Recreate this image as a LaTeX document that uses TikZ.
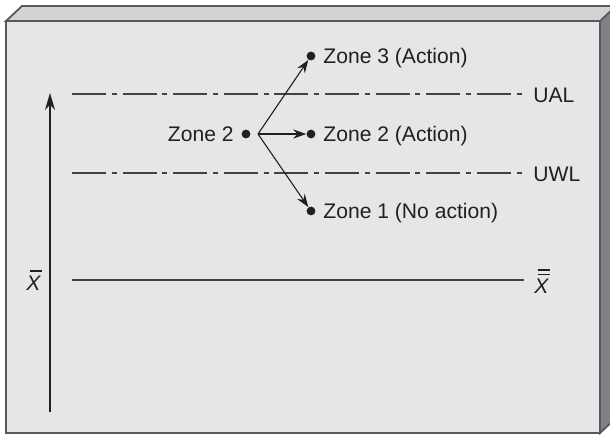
\documentclass[tikz,border=0pt]{standalone}
\usepackage{fontspec}
\setmainfont{Liberation Sans}
\usetikzlibrary{arrows.meta}
\definecolor{frontc}{HTML}{E5E6E7}
\definecolor{topc}{HTML}{D2D3D5}
\definecolor{sidec}{HTML}{808184}
\definecolor{edgec}{HTML}{58595B}
\definecolor{inkc}{HTML}{231F20}
\tikzset{
  lbl/.style={font=\fontsize{10.55}{12.6}\selectfont, text=inkc, inner sep=0pt, anchor=base west},
  dashdot/.style={draw=inkc!85, line width=0.6pt, dash pattern=on 17pt off 2.9pt on 2.5pt off 2.9pt},
  dotc/.style={circle, fill=inkc, inner sep=0pt, minimum size=4.4pt},
  zarrow/.style={draw=inkc, line width=0.55pt, -{Stealth[length=6.5pt, width=4.6pt, inset=2.2pt]}},
  edgeline/.style={draw=edgec, line width=0.9pt, line join=miter}
}
\begin{document}
\begin{tikzpicture}[x=0.5pt, y=-0.5pt]
\useasboundingbox (0,0) rectangle (610,434);
\begin{scope}
\clip (0,0) rectangle (610,434);
\fill[white] (0,0) rectangle (610,434);
% top face
\filldraw[fill=topc, edgeline] (6,21) -- (22,6) -- (640,6) -- (624,21) -- cycle;
% right side
\filldraw[fill=sidec, edgeline] (600,21) -- (616,6) -- (616,418) -- (600,433) -- cycle;
% front face
\filldraw[fill=frontc, edgeline] (6,21) rectangle (600,433);
\end{scope}

% vertical axis arrow
\coordinate (vb) at (50,412);
\coordinate (vt) at (50,93);
\draw[inkc, line width=0.8pt, -{Stealth[length=8.5pt, width=5pt, inset=2.7pt]}] (vb) -- (vt);

% control lines
\coordinate (ual1) at (72,94); \coordinate (ual2) at (522,94);
\coordinate (uwl1) at (72,173); \coordinate (uwl2) at (522,173);
\coordinate (cl1) at (72,280); \coordinate (cl2) at (524,280);
\draw[dashdot] (ual1) -- (ual2);
\draw[dashdot] (uwl1) -- (uwl2);
\draw[inkc!85, line width=0.6pt] (cl1) -- (cl2);

\node[lbl] (ual) at (533,102) {UAL};
\node[lbl] (uwl) at (533,181) {UWL};

% X bar labels
\node[lbl] (xb) at (26,290) {\itshape X};
\draw[inkc, line width=0.55pt] (29.5,271) -- (41.5,271);
\node[lbl] (xbb) at (534,293) {\itshape X};
\draw[inkc, line width=0.55pt] (537.5,270) -- (549.5,270);
\draw[inkc, line width=0.55pt] (537.5,274.5) -- (549.5,274.5);

% zones
\node[dotc] (z2l) at (246,134) {};
\node[lbl, anchor=base east] (z2t) at (234,141) {Zone 2};
\coordinate (o) at (258,134);
\node[dotc] (d3) at (311,56) {};
\node[dotc] (d2) at (311,134) {};
\node[dotc] (d1) at (311,211) {};
\draw[zarrow] (o) -- (d3);
\draw[zarrow] (o) -- (d2);
\draw[zarrow] (o) -- (d1);
\node[lbl] (t3) at (323,63) {Zone 3 (Action)};
\node[lbl] (t2) at (323,141) {Zone 2 (Action)};
\node[lbl] (t1) at (323,218) {Zone 1 (No action)};
\end{tikzpicture}
\end{document}
